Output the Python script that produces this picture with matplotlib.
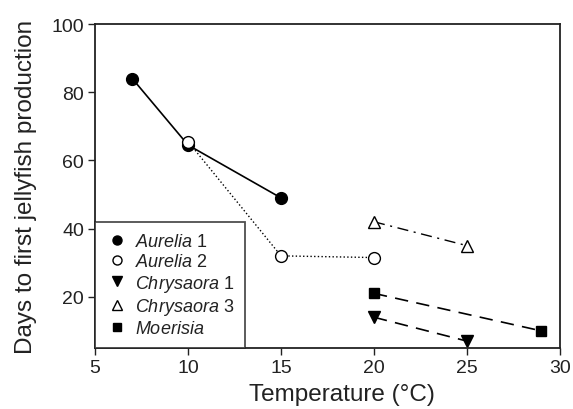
import matplotlib
matplotlib.use("Agg")
import matplotlib.pyplot as plt
from matplotlib.lines import Line2D

plt.rcParams['font.family'] = ['Liberation Sans', 'DejaVu Sans']
plt.rcParams['mathtext.fontset'] = 'custom'
plt.rcParams['mathtext.rm'] = 'Liberation Sans'
plt.rcParams['mathtext.it'] = 'Liberation Sans:italic'

aurelia1_x = [7, 10, 15]
aurelia1_y = [84, 64.5, 49]
aurelia2_x = [10, 15, 20]
aurelia2_y = [65.5, 32, 31.5]
chrys1_x = [20, 25]
chrys1_y = [14, 7]
chrys3_x = [20, 25]
chrys3_y = [42, 35]
moer_x = [20, 29]
moer_y = [21, 10]

xticks = [5, 10, 15, 20, 25, 30]
yticks = [20, 40, 60, 80, 100]

labels = ['$\\it{Aurelia}$ 1', '$\\it{Aurelia}$ 2', '$\\it{Chrysaora}$ 1',
          '$\\it{Chrysaora}$ 3', '$\\it{Moerisia}$']

fig = plt.figure(figsize=(5.73, 4.10), dpi=100)
ax = fig.add_axes([0.166, 0.149, 0.811, 0.790])

ms = 8.5
ax.plot(aurelia1_x, aurelia1_y, '-', color='black', lw=1.2, marker='o', ms=ms,
        mfc='black', mec='black', zorder=3)
ax.plot(aurelia2_x, aurelia2_y, ':', color='black', lw=1.0, marker='o', ms=ms,
        mfc='white', mec='black', zorder=4)
ax.plot(chrys1_x, chrys1_y, color='black', lw=1.2, ls=(0, (8, 5)), marker='v', ms=ms,
        mfc='black', mec='black', clip_on=False)
ax.plot(chrys3_x, chrys3_y, color='black', lw=1.0, ls=(0, (8, 4, 1.5, 4)), marker='^', ms=ms,
        mfc='white', mec='black')
ax.plot(moer_x, moer_y, color='black', lw=1.2, ls=(0, (8, 5)), marker='s', ms=7.5,
        mfc='black', mec='black')

ax.set_xlim(5, 30)
ax.set_ylim(5, 100)
ax.set_xticks(xticks)
ax.set_yticks(yticks)
ax.tick_params(direction='out', labelsize=14, length=5, width=1, pad=3, colors='#222222')
for s in ax.spines.values():
    s.set_linewidth(1.3)
    s.set_color('#222222')
ax.set_xlabel('Temperature (°C)', fontsize=17.5, color='#222222', labelpad=5)
ax.xaxis.label.set_x(0.532)
ax.set_ylabel('Days to first jellyfish production', fontsize=17.5, color='#222222', labelpad=10)

handles = [
    Line2D([], [], ls='None', marker='o', ms=6.5, mfc='black', mec='black'),
    Line2D([], [], ls='None', marker='o', ms=6.5, mfc='white', mec='black'),
    Line2D([], [], ls='None', marker='v', ms=6.5, mfc='black', mec='black'),
    Line2D([], [], ls='None', marker='^', ms=6.5, mfc='white', mec='black'),
    Line2D([], [], ls='None', marker='s', ms=5.5, mfc='black', mec='black'),
]
leg = ax.legend(handles, labels, loc='lower left', fontsize=13, frameon=True, fancybox=False,
                edgecolor='#222222', borderaxespad=0, handlelength=1.25,
                handletextpad=0.37, labelspacing=0.15, borderpad=0.6)
leg.get_frame().set_linewidth(1.3)
for t in leg.get_texts():
    t.set_color('#222222')

fig.savefig('out.png', dpi=100)
